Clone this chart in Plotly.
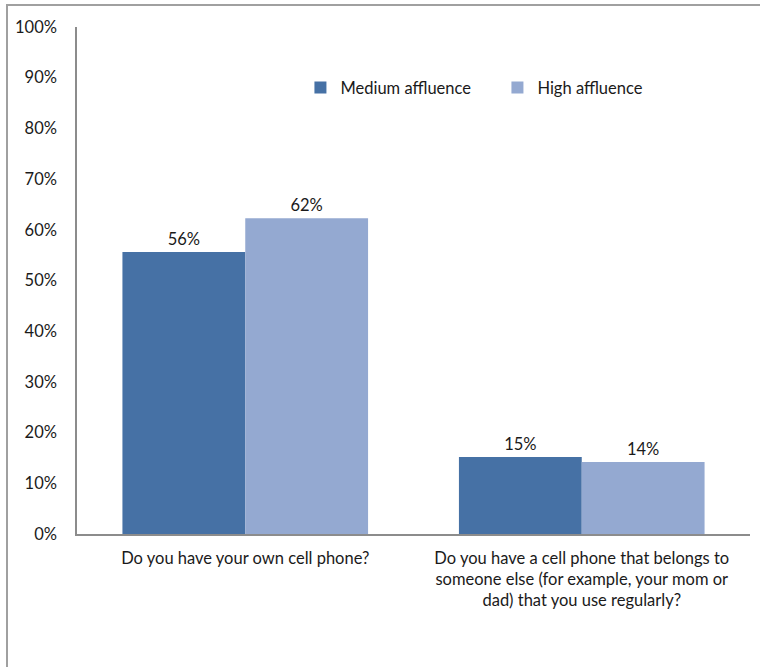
import plotly.graph_objects as go

categories = [
    "Do you have your own cell phone?",
    "Do you have a cell phone that belongs to<br>someone else (for example, your mom or<br>dad) that you use regularly?",
]
medium_affluence = [55.6, 15.2]
high_affluence = [62.3, 14.2]
series_names = ["Medium affluence", "High affluence"]
tick_vals = [0, 10, 20, 30, 40, 50, 60, 70, 80, 90, 100]
tick_text = [f"{v}%" for v in tick_vals]

FONT = "Lato, 'Open Sans', sans-serif"
TXT = "#1a1a1a"
FS = 16.5

fig = go.Figure()
fig.add_trace(go.Bar(
    x=categories, y=medium_affluence, name=series_names[0],
    marker=dict(color="#4671A5", line=dict(width=0)),
    texttemplate="%{y:.0f}%", textposition="outside",
    textfont=dict(size=FS, color=TXT, family=FONT), cliponaxis=False,
))
fig.add_trace(go.Bar(
    x=categories, y=high_affluence, name=series_names[1],
    marker=dict(color="#94A9D1", line=dict(width=0)),
    texttemplate="%{y:.0f}%", textposition="outside",
    textfont=dict(size=FS, color=TXT, family=FONT), cliponaxis=False,
))

fig.update_layout(
    width=760, height=667,
    margin=dict(l=77, r=10, t=27, b=133, autoexpand=False),
    paper_bgcolor="white", plot_bgcolor="white",
    barmode="group", bargap=0.27, bargroupgap=0,
    font=dict(family=FONT, size=FS, color=TXT),
    showlegend=True,
    legend=dict(orientation="h", x=0.332, y=0.88, xanchor="left", yanchor="middle",
                font=dict(size=FS, color=TXT, family=FONT), itemwidth=30,
                bgcolor="rgba(0,0,0,0)", traceorder="normal", entrywidth=152),
    xaxis=dict(showline=True, linecolor="#8c8c8c", linewidth=1.5, showgrid=False,
               ticks="", tickfont=dict(size=FS, color=TXT, family=FONT), ticklabelstandoff=8,
               automargin=False),
    yaxis=dict(range=[0, 100], tickvals=tick_vals, ticktext=tick_text,
               showline=True, linecolor="#8c8c8c", linewidth=1.5, showgrid=False,
               ticks="", tickfont=dict(size=FS, color=TXT, family=FONT), ticklabelstandoff=15,
               zeroline=False, automargin=False),
    shapes=[dict(type="rect", xref="paper", yref="paper",
                 x0=(7 - 77) / 673, x1=1.5, y0=-0.6, y1=(534 - 5) / 507,
                 line=dict(color="#a0a0a0", width=2), fillcolor="rgba(0,0,0,0)", layer="below")],
)

fig.write_html("out.html", config={"displayModeBar": False},
               post_script="document.body.style.margin='0';")
